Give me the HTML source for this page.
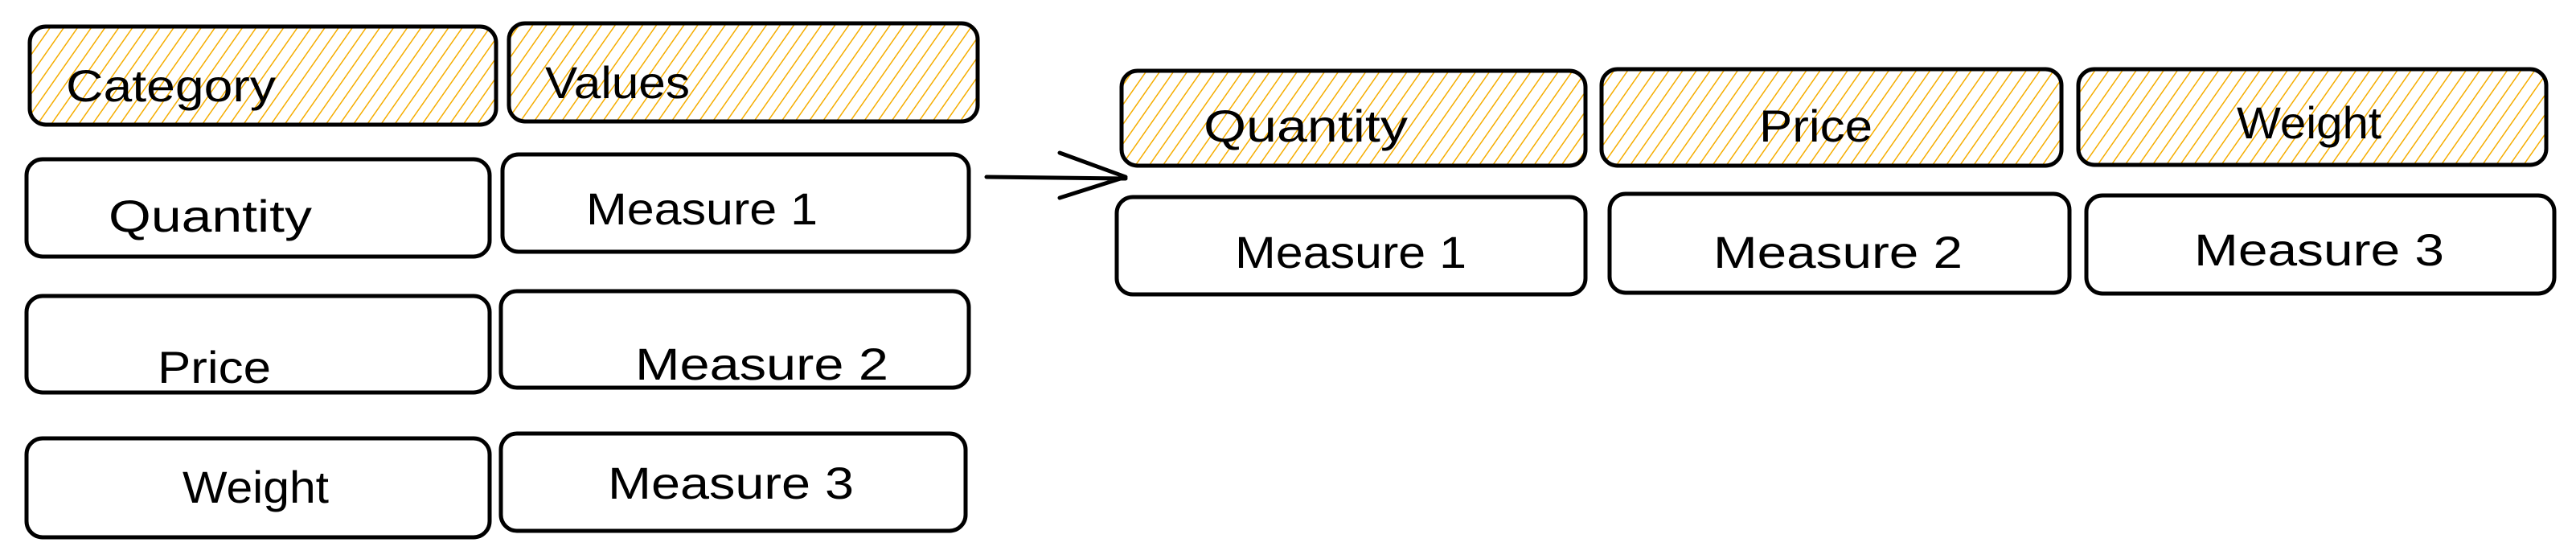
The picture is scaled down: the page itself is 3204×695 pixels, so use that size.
<!DOCTYPE html>
<html><head><meta charset="utf-8"><style>html,body{margin:0;padding:0;background:#fff}svg{display:block}</style></head>
<body>
<svg width="3204" height="695" viewBox="0 0 3204 695" xmlns="http://www.w3.org/2000/svg">
<defs>
<pattern id="h" width="14" height="14" patternUnits="userSpaceOnUse" patternTransform="rotate(35)">
<line x1="0" y1="0" x2="0" y2="14" stroke="#f5ad00" stroke-width="3"/>
</pattern>
</defs>
<g stroke="#000" stroke-width="5" fill="none">
<rect x="37" y="33" width="580" height="122" rx="20" fill="url(#h)"/>
<rect x="633" y="29" width="583" height="122" rx="20" fill="url(#h)"/>
<rect x="33" y="198" width="576" height="121" rx="20"/>
<rect x="625" y="192" width="580" height="121" rx="20"/>
<rect x="33" y="368" width="576" height="120" rx="20"/>
<rect x="623" y="362" width="582" height="120" rx="20"/>
<rect x="33" y="545" width="576" height="123" rx="20"/>
<rect x="623" y="539" width="578" height="121" rx="20"/>
<rect x="1395" y="88" width="577" height="118" rx="20" fill="url(#h)"/>
<rect x="1992" y="86" width="572" height="120" rx="20" fill="url(#h)"/>
<rect x="2585" y="86" width="582" height="119" rx="20" fill="url(#h)"/>
<rect x="1389" y="245" width="583" height="121" rx="20"/>
<rect x="2002" y="241" width="572" height="123" rx="20"/>
<rect x="2595" y="243" width="582" height="122" rx="20"/>
<path d="M1227 220 L1400 222 M1318 190 L1400 220 L1318 246" stroke-linecap="round" stroke-linejoin="round"/>
</g>
<g font-family="Liberation Sans, sans-serif" font-size="56" fill="#000">
<text x="82" y="126" textLength="261" lengthAdjust="spacingAndGlyphs">Category</text>
<text x="678" y="122" textLength="180" lengthAdjust="spacingAndGlyphs">Values</text>
<text x="135" y="288" textLength="253" lengthAdjust="spacingAndGlyphs">Quantity</text>
<text x="729" y="279" textLength="288" lengthAdjust="spacingAndGlyphs">Measure 1</text>
<text x="196" y="476" textLength="141" lengthAdjust="spacingAndGlyphs">Price</text>
<text x="790" y="472" textLength="315" lengthAdjust="spacingAndGlyphs">Measure 2</text>
<text x="227" y="625" textLength="182" lengthAdjust="spacingAndGlyphs">Weight</text>
<text x="756" y="620" textLength="306" lengthAdjust="spacingAndGlyphs">Measure 3</text>
<text x="1497" y="176" textLength="254" lengthAdjust="spacingAndGlyphs">Quantity</text>
<text x="2188" y="176" textLength="141" lengthAdjust="spacingAndGlyphs">Price</text>
<text x="2782" y="172" textLength="180" lengthAdjust="spacingAndGlyphs">Weight</text>
<text x="1536" y="333" textLength="288" lengthAdjust="spacingAndGlyphs">Measure 1</text>
<text x="2131" y="333" textLength="310" lengthAdjust="spacingAndGlyphs">Measure 2</text>
<text x="2729" y="330" textLength="311" lengthAdjust="spacingAndGlyphs">Measure 3</text>
</g>
</svg>
</body></html>
